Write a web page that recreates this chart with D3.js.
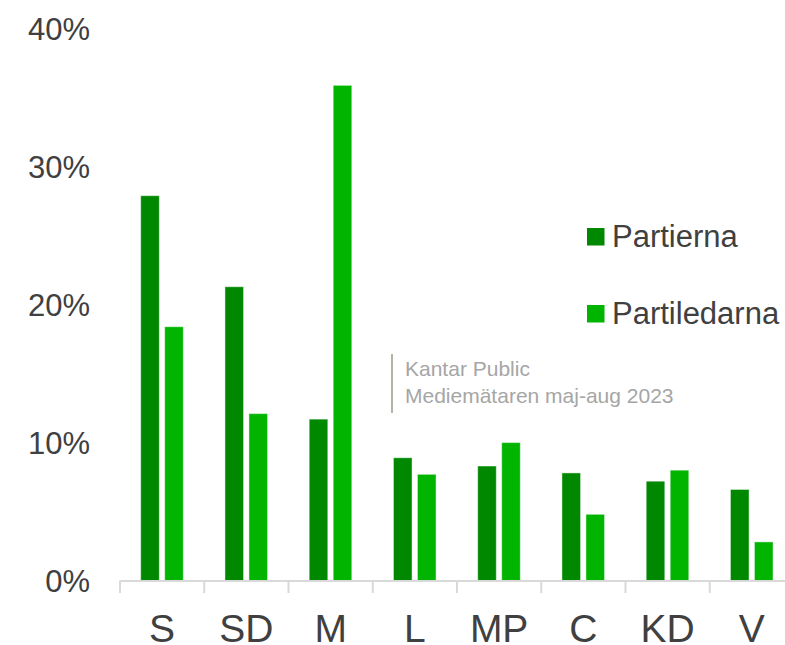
<!DOCTYPE html>
<html>
<head>
<meta charset="utf-8">
<script src="https://cdn.jsdelivr.net/npm/d3@7"></script>
<style>
  body { margin: 0; background: #fff; }
  svg { display: block; font-family: Arial, "Liberation Sans", sans-serif; }
</style>
</head>
<body>
<div class="chart"></div>
<script>
// parties and the two series (percent)
var parties = ["S", "SD", "M", "L", "MP", "C", "KD", "V"];
var series = ["Partierna", "Partiledarna"];
var partierna = [27.9, 21.3, 11.7, 8.9, 8.3, 7.8, 7.2, 6.6];
var partiledarna = [18.4, 12.1, 35.9, 7.7, 10.0, 4.8, 8.0, 2.8];
var yTicks = [0, 10, 20, 30, 40];
var sourceLines = ["Kantar Public", "Mediemätaren maj-aug 2023"];

var width = 785,
    height = 645;

var colors = d3.scaleOrdinal()
  .domain(series)
  .range(["#008800", "#00b400"]);

var svg = d3.select(".chart").append("svg")
  .attr("width", width)
  .attr("height", height);

var x = d3.scaleBand()
  .domain(parties)
  .range([120, 794])
  .padding(0);

var x1 = d3.scaleBand()
  .domain(series)
  .range([20.7, 63.3])
  .paddingInner(0.225)
  .paddingOuter(0);

var y = d3.scaleLinear()
  .domain([0, 40])
  .range([580.5, 28.8]);

var rows = parties.map(function(p, i) {
  return {party: p, values: [
    {key: series[0], value: partierna[i]},
    {key: series[1], value: partiledarna[i]}
  ]};
});

// y labels
svg.append("g")
  .selectAll("text")
  .data(yTicks)
  .enter()
  .append("text")
  .attr("x", 90)
  .attr("y", function(d) { return y(d); })
  .attr("dy", "0.36em")
  .attr("text-anchor", "end")
  .style("font-size", "31px")
  .style("fill", "#404040")
  .text(function(d) { return d + "%"; });

// bars
var groups = svg.append("g")
  .selectAll("g")
  .data(rows)
  .enter()
  .append("g")
  .attr("transform", function(d) { return "translate(" + x(d.party) + ",0)"; });

groups.selectAll("rect")
  .data(function(d) { return d.values; })
  .enter()
  .append("rect")
  .attr("x", function(d) { return x1(d.key); })
  .attr("width", x1.bandwidth())
  .attr("y", function(d) { return y(d.value); })
  .attr("height", function(d) { return y(0) - y(d.value); })
  .style("fill", function(d) { return colors(d.key); })
  .style("stroke", "rgba(255,255,255,0.45)")
  .style("stroke-width", 1);

// x axis
var xAxis = svg.append("g")
  .attr("transform", "translate(0," + y(0) + ")")
  .call(d3.axisBottom(x).tickSize(0).tickFormat(""));
xAxis.select(".domain").attr("stroke", "#d9d9d9").attr("stroke-width", 2);
xAxis.selectAll(".tick").remove();

svg.append("g")
  .selectAll("line")
  .data(parties)
  .enter()
  .append("line")
  .attr("x1", function(d) { return x(d); })
  .attr("x2", function(d) { return x(d); })
  .attr("y1", y(0))
  .attr("y2", y(0) + 12.5)
  .style("stroke", "#d9d9d9")
  .style("stroke-width", 2);

svg.append("g")
  .selectAll("text")
  .data(parties)
  .enter()
  .append("text")
  .attr("x", function(d) { return x(d) + x.bandwidth() / 2; })
  .attr("y", 642)
  .attr("text-anchor", "middle")
  .style("font-size", "39px")
  .style("fill", "#404040")
  .text(function(d) { return d; });

// legend
var legend = svg.append("g")
  .selectAll("g")
  .data(series)
  .enter()
  .append("g")
  .attr("transform", function(d, i) { return "translate(587," + (228 + i * 77) + ")"; });

legend.append("rect")
  .attr("width", 17.5)
  .attr("height", 17.5)
  .style("fill", function(d) { return colors(d); });

legend.append("text")
  .attr("x", 25)
  .attr("y", 18.5)
  .style("font-size", "31px")
  .style("fill", "#404040")
  .text(function(d) { return d; });

// source note
svg.append("line")
  .attr("x1", 392).attr("x2", 392)
  .attr("y1", 354).attr("y2", 413)
  .style("stroke", "#b4b3a8")
  .style("stroke-width", 2);

svg.append("g")
  .selectAll("text")
  .data(sourceLines)
  .enter()
  .append("text")
  .attr("x", 405)
  .attr("y", function(d, i) { return 376 + i * 27; })
  .style("font-size", "21px")
  .style("fill", "#a6a6a6")
  .text(function(d) { return d; });
</script>
</body>
</html>
